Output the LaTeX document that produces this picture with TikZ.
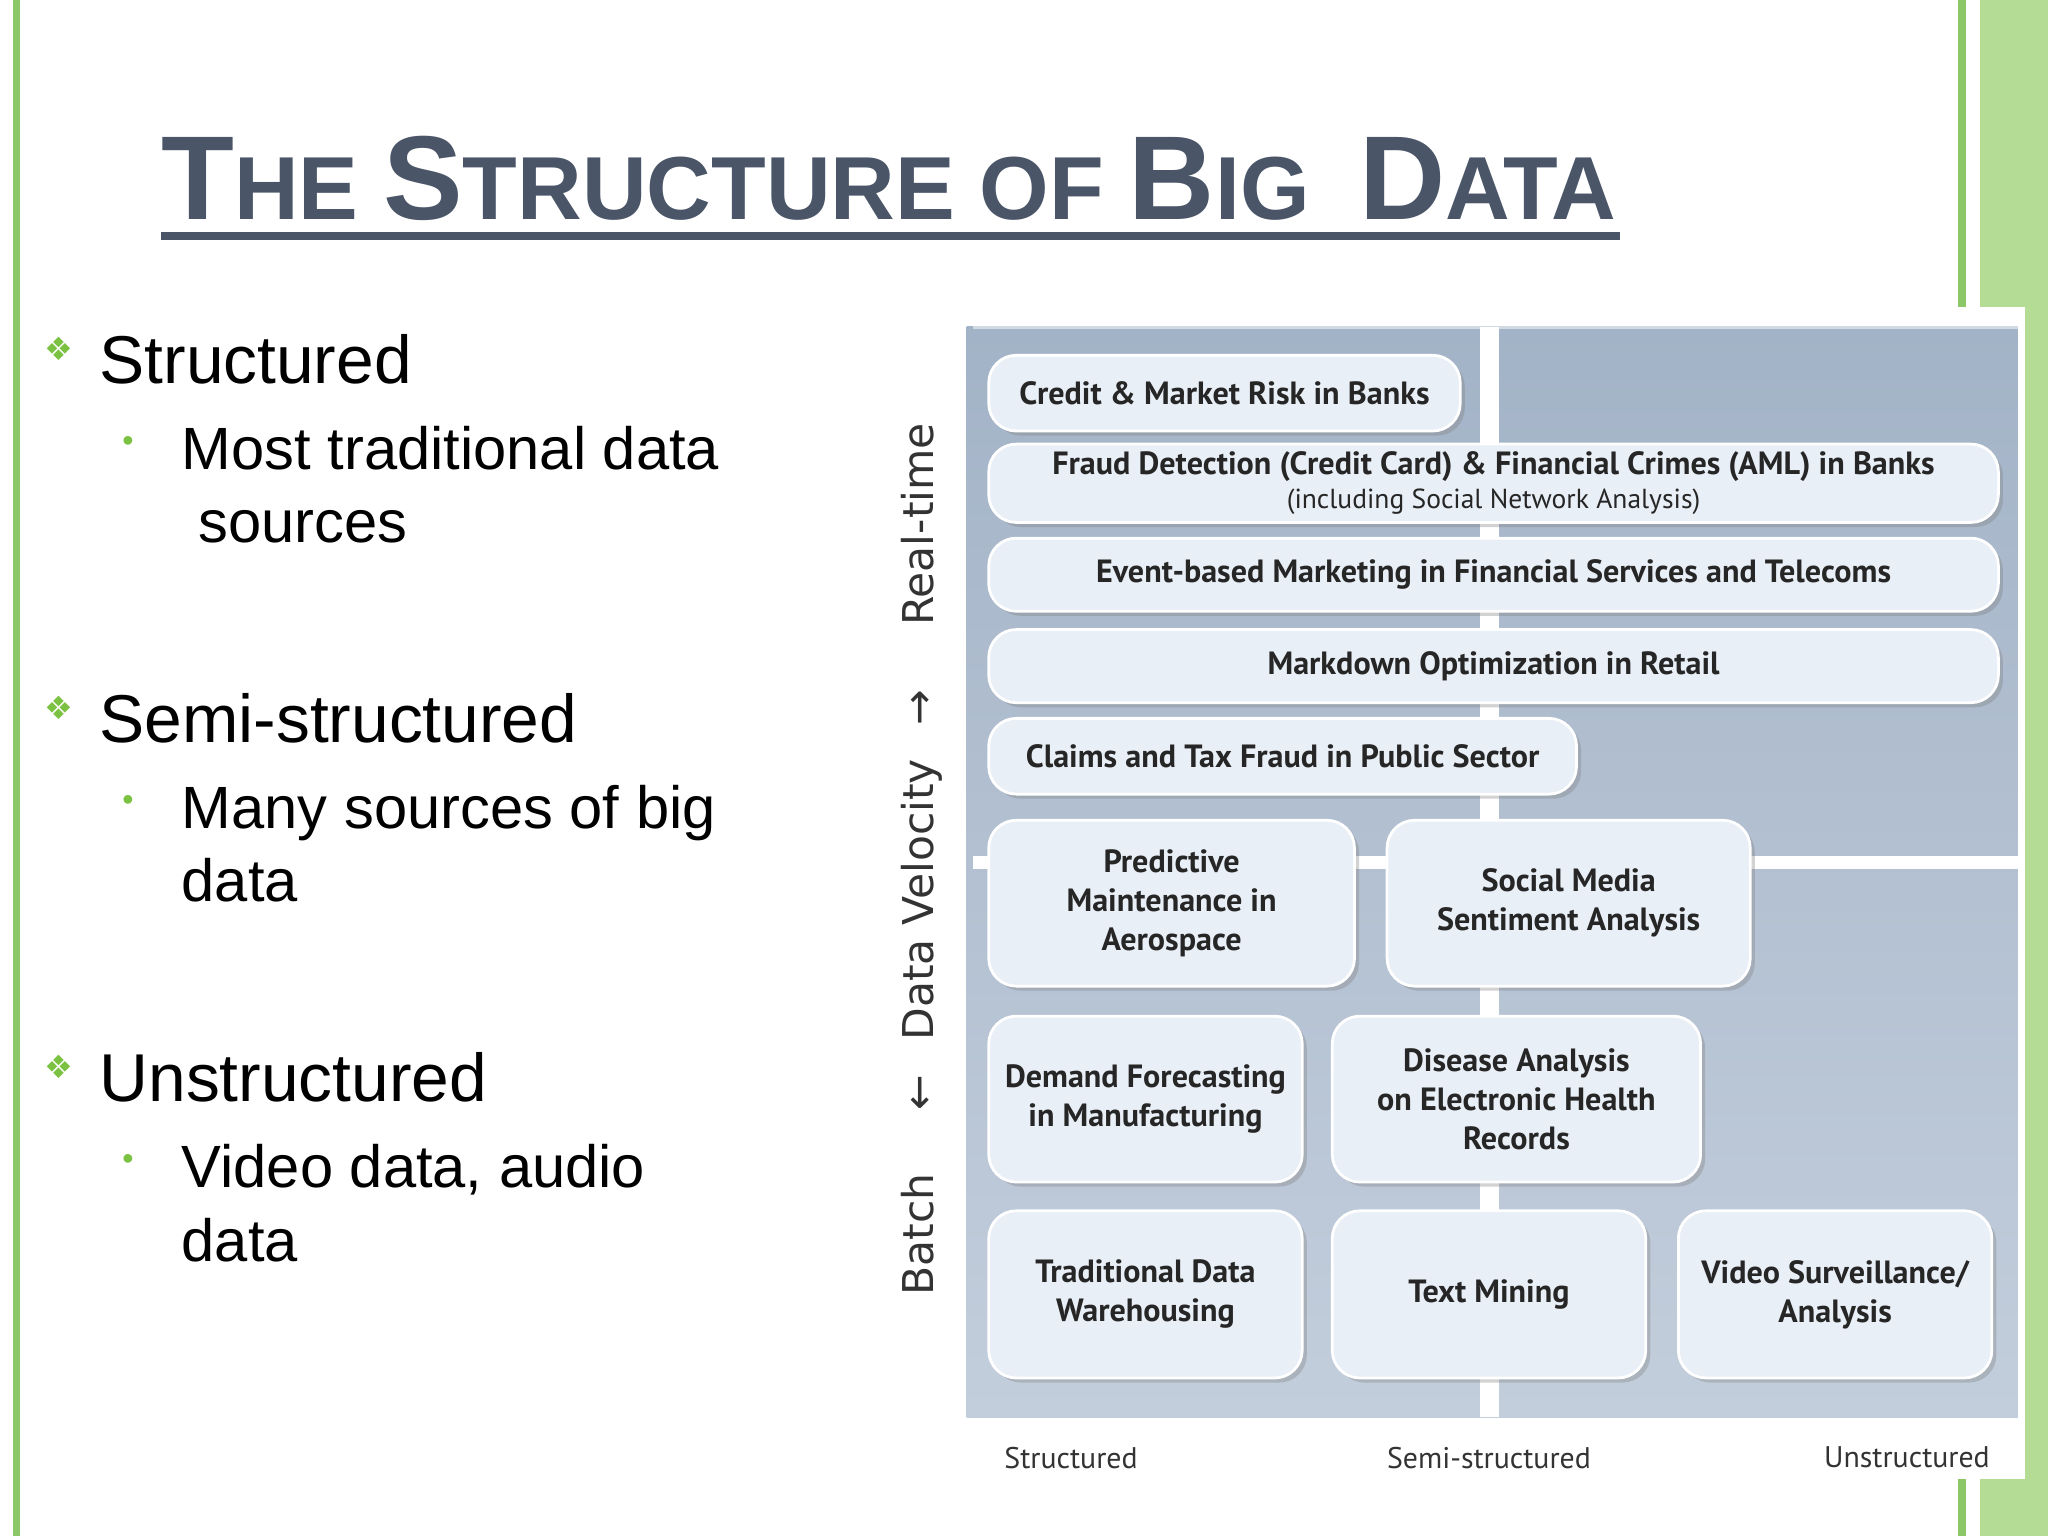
\documentclass[tikz,border=0pt]{standalone}
\usepackage{fontspec}
\setmainfont{Liberation Sans}
\newfontfamily\boxf{PT Sans}
\newfontfamily\dvfont{DejaVu Sans}
\usetikzlibrary{shadows}
\definecolor{titlec}{HTML}{4A5568}
\definecolor{gbar}{HTML}{B5DC95}
\definecolor{gline}{HTML}{8CC76A}
\definecolor{panelA}{HTML}{A3B3C7}
\definecolor{panelB}{HTML}{C3CEDC}
\definecolor{boxc}{HTML}{E9EFF6}
\definecolor{bul}{HTML}{7CC242}
\tikzset{
 bx/.style={draw=white,line width=1.2pt,rounded corners=12pt,fill=boxc,
   drop shadow={shadow xshift=2pt,shadow yshift=-2pt,opacity=0.35},
   font=\boxf\bfseries\fontsize{14}{17}\selectfont,text=black!85,align=center,inner sep=0pt},
 h1/.style={anchor=west,font=\fontsize{29.5}{36}\selectfont},
 h2/.style={anchor=west,font=\fontsize{26}{32}\selectfont,align=left},
 ax/.style={font=\boxf\fontsize{13}{16}\selectfont,text=black!80}
}
\newcommand{\mkbox}[5]{\node[bx,minimum width={(#3-#1)*0.02cm},minimum height={(#4-#2)*0.02cm}] at ({(#1+#3)/2},{(#2+#4)/2}) {#5};}
\begin{document}
\begin{tikzpicture}[x=0.02cm,y=-0.02cm]
\useasboundingbox[fill=white] (0,0) rectangle (1568,1176);
% borders
\fill[gline] (10,0) rectangle (15,1176);
\fill[gline] (1499,0) rectangle (1505,1176);
\fill[gbar] (1516,0) rectangle (1568,1176);
% title
\node[anchor=base west,inner sep=0,text=titlec,font=\bfseries] (title) at (123,168)
 {\fontsize{52}{52}\selectfont T\fontsize{39}{39}\selectfont HE \fontsize{52}{52}\selectfont S\fontsize{39}{39}\selectfont TRUCTURE OF \fontsize{52}{52}\selectfont B\fontsize{39}{39}\selectfont IG\ \ \fontsize{52}{52}\selectfont D\fontsize{39}{39}\selectfont ATA};
\fill[titlec] (123,178) rectangle (1240,184);
% bullets
\foreach \y/\t in {275/Structured,550/Semi-structured,825/Unstructured}{
 \node[text=bul,font=\dvfont\fontsize{14}{14}\selectfont] at (45,{\y-8}) {\char"2756};
 \node[h1] at (70,\y) {\t};}
\foreach \y in {340,615,890}{\node[text=bul,font=\fontsize{14}{14}\selectfont] at (98,\y) {•};}
\node[h2,anchor=north west] at (133,320) {Most traditional data\\ \ sources};
\node[h2,anchor=north west] at (133,595) {Many sources of big\\data};
\node[h2,anchor=north west] at (133,870) {Video data, audio\\data};
% panel
\fill[white] (735,235) rectangle (1550,1132);
\shade[top color=panelA,bottom color=panelB] (740,250) rectangle (1545,1085);
\fill[white] (1133,250) rectangle (1148,1085);
\fill[white] (745,655) rectangle (1545,665);
\fill[white,opacity=0.5] (745,245) rectangle (1545,252);
% boxes
\mkbox{757}{272}{1118}{330}{Credit \& Market Risk in Banks}
\mkbox{757}{340}{1530}{400}{Fraud Detection (Credit Card) \& Financial Crimes (AML) in Banks\\[-2pt]{\mdseries\fontsize{12}{14}\selectfont (including Social Network Analysis)}}
\mkbox{757}{412}{1530}{468}{Event-based Marketing in Financial Services and Telecoms}
\mkbox{757}{482}{1530}{538}{Markdown Optimization in Retail}
\mkbox{757}{550}{1207}{608}{Claims and Tax Fraud in Public Sector}
\mkbox{757}{628}{1037}{755}{Predictive\\Maintenance in\\Aerospace}
\mkbox{1062}{628}{1340}{755}{Social Media\\Sentiment Analysis}
\mkbox{757}{778}{997}{905}{Demand Forecasting\\in Manufacturing}
\mkbox{1020}{778}{1302}{905}{Disease Analysis\\on Electronic Health\\Records}
\mkbox{757}{927}{997}{1055}{Traditional Data\\Warehousing}
\mkbox{1020}{927}{1260}{1055}{Text Mining}
\mkbox{1285}{927}{1525}{1055}{Video Surveillance/\\Analysis}
% axes
\node[ax,rotate=90,font=\dvfont\fontsize{18.5}{18}\selectfont] (vel) at (706,658) {Batch\hspace{1.5em}←\hspace{0.8em}Data Velocity\hspace{0.8em}→\hspace{1.5em}Real-time};
\node[ax] (s1) at (820,1116) {Structured};
\node[ax] (s2) at (1140,1116) {Semi-structured};
\node[ax] (s3) at (1460,1116) {Unstructured};
\end{tikzpicture}
\end{document}
